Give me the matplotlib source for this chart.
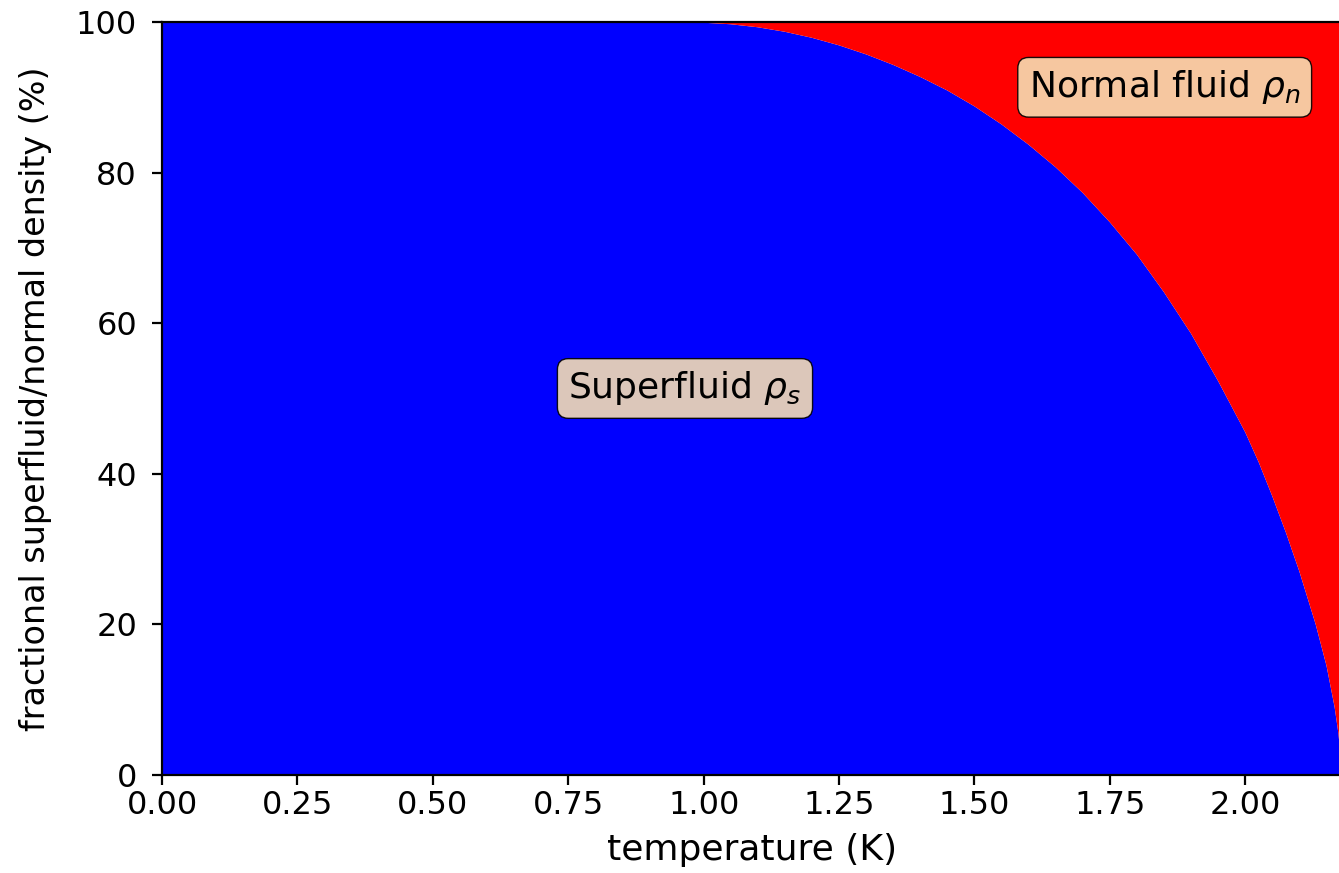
import matplotlib
matplotlib.use("Agg")
import matplotlib.pyplot as plt

# temperature (K) and superfluid fraction (%)
temperature = [0.0, 0.25, 0.50, 0.75, 0.90, 0.95, 1.00, 1.05, 1.10, 1.15,
               1.20, 1.25, 1.30, 1.35, 1.40, 1.45, 1.50, 1.55, 1.60, 1.65,
               1.70, 1.75, 1.80, 1.85, 1.90, 1.95, 2.00, 2.025, 2.05, 2.075,
               2.10, 2.13, 2.15, 2.165, 2.172, 2.176, 2.178]
superfluid = [100.0, 100.0, 100.0, 100.0, 100.0, 99.98, 99.9, 99.7, 99.3, 98.7,
              97.9, 96.9, 95.7, 94.3, 92.7, 90.9, 88.8, 86.4, 83.7, 80.7,
              77.3, 73.4, 69.1, 64.1, 58.6, 52.3, 45.5, 41.5, 37.0, 32.2,
              27.0, 20.0, 14.5, 9.0, 5.5, 2.5, 0.0]
normal = [100.0 - s for s in superfluid]

fig = plt.figure(figsize=(13.39, 8.73), dpi=100)
ax = fig.add_axes([0.121, 0.1123, 0.881, 0.8625])

ax.stackplot(temperature, superfluid, normal, colors=['blue', 'red'])

ax.set_xlim(0, temperature[-1])
ax.set_ylim(0, 100)
ax.set_xlabel('temperature (K)', fontsize=26, labelpad=9)
ax.set_ylabel('fractional superfluid/normal density (%)', fontsize=24)
ax.yaxis.set_label_coords(-0.093, 0.5)

props = dict(boxstyle='round', facecolor='wheat', alpha=0.9)
ax.text(0.75, 50, r'Superfluid $\rho_s$', fontsize=26, bbox=props)
ax.text(1.6, 90, r'Normal fluid $\rho_n$', fontsize=26, bbox=props)

for s in ax.spines.values():
    s.set_linewidth(1.6)
ax.tick_params(width=1.6, length=7, labelsize=23)
ax.tick_params(axis='y', pad=11)

fig.savefig('out.png', dpi=100)
